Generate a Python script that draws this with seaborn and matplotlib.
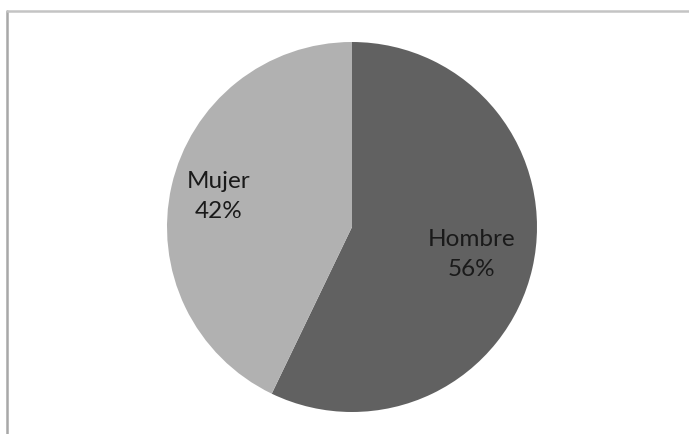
import matplotlib
matplotlib.use("Agg")
import matplotlib.pyplot as plt
import seaborn as sns
import numpy as np

sns.set_theme(style="white")
plt.rcParams['font.family'] = ['Lato', 'DejaVu Sans']

categories = ["Hombre", "Mujer"]
values = [56, 42]
pct_labels = ["56%", "42%"]
colors = ["#616161", "#b1b1b1"]
label_dist = [0.665, 0.74]

fig = plt.figure(figsize=(6.89, 4.34), dpi=100)
fig.patch.set_facecolor("white")

# frame lines (chart area border partially visible)
fig.add_artist(plt.Line2D([7/689, 7/689], [0, 1 - 11/434], color="#a8a8a8", lw=1.8, transform=fig.transFigure))
fig.add_artist(plt.Line2D([7/689, 1], [1 - 11/434, 1 - 11/434], color="#c4c4c4", lw=1.8, transform=fig.transFigure))

# pie axes: center (352,227), radius 185 px
cx, cy, r = 352, 227, 185
ax = fig.add_axes([(cx - r) / 689, (434 - cy - r) / 434, 2 * r / 689, 2 * r / 434])
wedges, _ = ax.pie(values, colors=colors, startangle=90, counterclock=False,
                   wedgeprops=dict(linewidth=0))
ax.set_xlim(-1, 1)
ax.set_ylim(-1, 1)
ax.set_aspect("auto")
ax.axis("off")

for w, cat, pl, d in zip(wedges, categories, pct_labels, label_dist):
    ang = np.deg2rad((w.theta1 + w.theta2) / 2)
    ax.text(d * np.cos(ang), d * np.sin(ang), f"{cat}\n{pl}", ha="center", va="center",
            fontsize=17.5, color="#1a1a1a", linespacing=1.55)

fig.savefig("out.png", dpi=100, facecolor="white")
